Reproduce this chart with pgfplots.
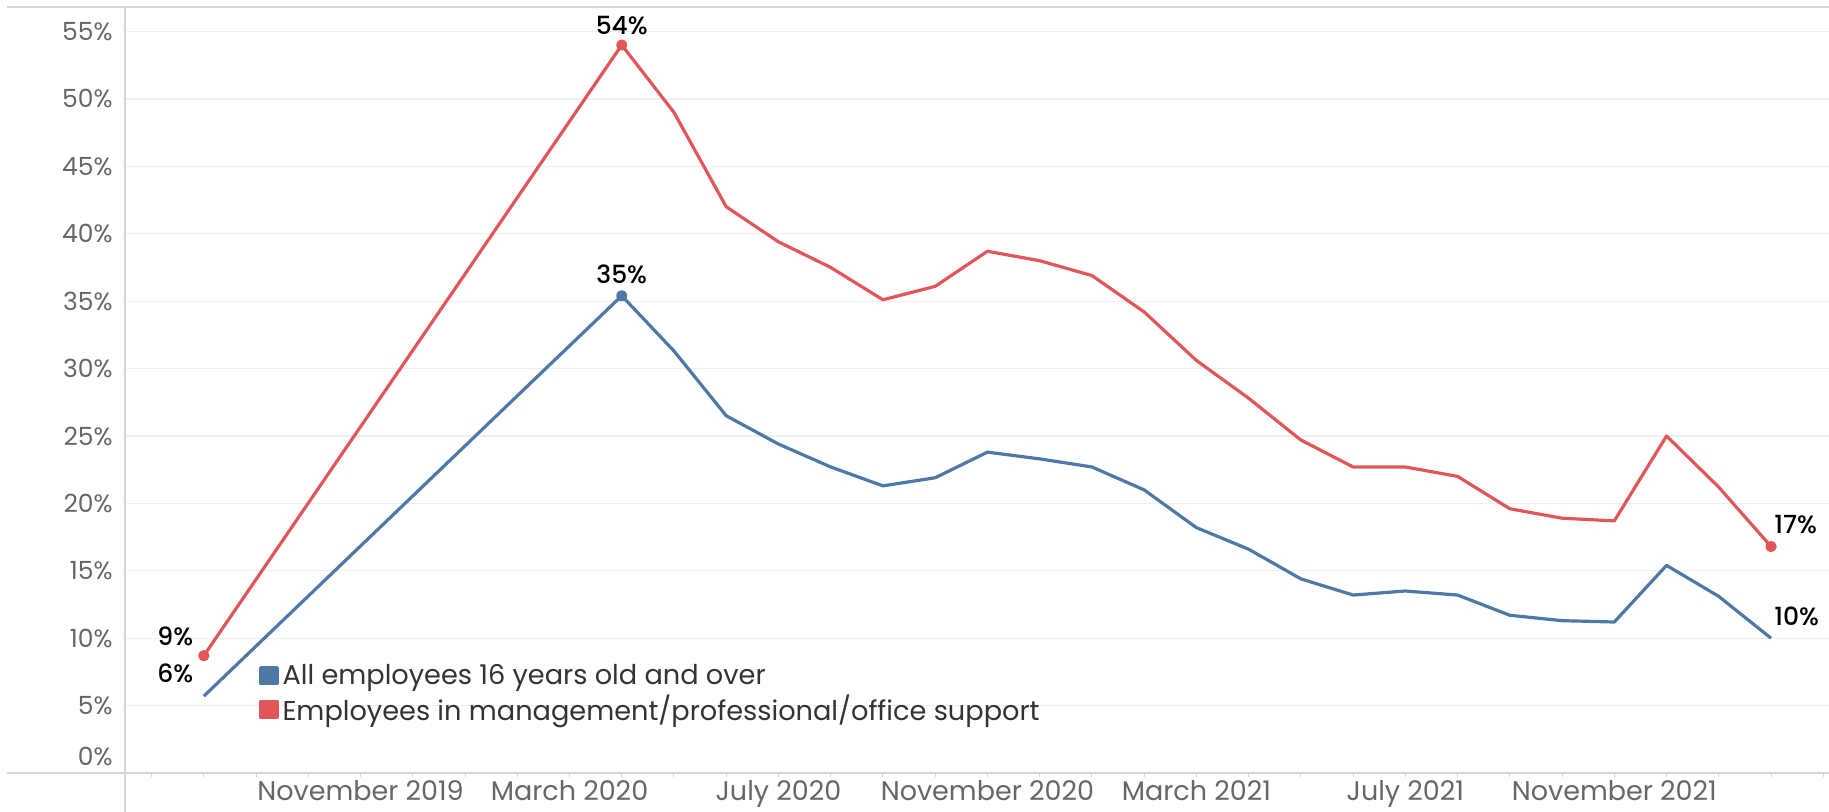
\documentclass[border=0pt]{standalone}
\usepackage{pgfplots}
\pgfplotsset{compat=1.18}
\usepackage{pgfplotstable}
\usepackage{fontspec}
\setmainfont{Poppins}
\newfontfamily\medfont{Poppins Medium}
\definecolor{tblue}{HTML}{4E79A7}
\definecolor{tred}{HTML}{E15759}
\definecolor{gridc}{HTML}{EFEFEF}
\definecolor{axisgray}{HTML}{D4D4D4}
\definecolor{ticklab}{HTML}{666666}
\definecolor{legtext}{HTML}{333333}

\pgfplotstableread{
idx blue red
2 5.7 8.7
10 35.4 54.0
11 31.3 49.0
12 26.5 42.0
13 24.4 39.4
14 22.7 37.5
15 21.3 35.1
16 21.9 36.1
17 23.8 38.7
18 23.3 38.0
19 22.7 36.9
20 21.0 34.2
21 18.2 30.6
22 16.6 27.8
23 14.4 24.7
24 13.2 22.7
25 13.5 22.7
26 13.2 22.0
27 11.7 19.6
28 11.3 18.9
29 11.2 18.7
30 15.4 25.0
31 13.1 21.2
32 10.0 16.8
}\datatable

\begin{document}
\begin{tikzpicture}
\begin{axis}[
  width=852pt, height=383pt, scale only axis,
  xmin=0.491, xmax=33.11, ymin=0, ymax=56.82,
  clip=false,
  axis line style={draw=none},
  ytick={5,10,...,55},
  yticklabels={5\%,10\%,15\%,20\%,25\%,30\%,35\%,40\%,45\%,50\%,55\%},
  extra y ticks={0}, extra y tick labels={0\%},
  extra y tick style={yticklabel style={yshift=8.5pt}, grid=none},
  ytick style={draw=none},
  ytick align=inside,
  yticklabel style={font=\fontsize{12.5}{14}\selectfont, text=ticklab, anchor=east, inner sep=0pt, xshift=-6pt},
  ymajorgrids, major grid style={gridc, line width=0.6pt},
  xtick={5,9,13,17,21,25,29},
  xticklabels={November 2019, March 2020, July 2020, November 2020, March 2021, July 2021, November 2021},
  minor xtick={1,...,33},
  xtick pos=bottom,
  xtick style={axisgray, line width=0.5pt},
  xtick align=outside,
  major tick length=2pt, minor tick length=2pt,
  xticklabel style={font=\fontsize{13.5}{15}\selectfont, text=ticklab, anchor=north, inner sep=0pt, yshift=-1.5pt},
  legend style={at={(rel axis cs:0.0786,0.148)}, anchor=north west, draw=none, fill=none,
    font=\fontsize{13.6}{15}\selectfont, text=legtext, row sep=0pt, inner sep=0pt,
    /tikz/every even column/.append style={column sep=2.5pt}},
  legend cell align=left,
  legend image code/.code={\fill (0pt,-4pt) rectangle (8pt,4pt);},
]
\addplot[tblue, line width=1.6pt, line join=round, mark=*, mark size=2pt, mark indices={2}, mark options={fill=tblue, draw=tblue}] table[x=idx, y=blue] {\datatable};
\addlegendentry{All employees 16 years old and over}
\addplot[tred, line width=1.6pt, line join=round, mark=*, mark size=2pt, mark indices={1,2,24}, mark options={fill=tred, draw=tred}] table[x=idx, y=red] {\datatable};
\addlegendentry{Employees in management/professional/office support}

\node[anchor=east, font=\medfont\fontsize{12.5}{14}\selectfont] at ([xshift=-1.8pt,yshift=9.7pt]axis cs:2,8.7) {9\%};
\node[anchor=east, font=\medfont\fontsize{12.5}{14}\selectfont] at ([xshift=-1.8pt,yshift=11.5pt]axis cs:2,5.7) {6\%};
\node[anchor=base, font=\medfont\fontsize{12.5}{14}\selectfont] at ([yshift=5.5pt]axis cs:10,54.0) {54\%};
\node[anchor=base, font=\medfont\fontsize{12.5}{14}\selectfont] at ([yshift=6pt]axis cs:10,35.4) {35\%};
\node[anchor=west, font=\medfont\fontsize{12.5}{14}\selectfont] at ([xshift=-1.9pt,yshift=10.8pt]axis cs:32,16.8) {17\%};
\node[anchor=west, font=\medfont\fontsize{12.5}{14}\selectfont] at ([xshift=-1.9pt,yshift=11pt]axis cs:32,10.0) {10\%};

\draw[axisgray, line width=1pt] ([xshift=-59pt]rel axis cs:0,0) -- (rel axis cs:1,0);
\draw[axisgray, line width=1pt] ([xshift=-59pt]rel axis cs:0,1) -- (rel axis cs:1,1);
\draw[axisgray, line width=1pt] (rel axis cs:0,1) -- ([yshift=-19.5pt]rel axis cs:0,0);
\end{axis}
\pgfresetboundingbox
\path ([shift={(-62.5pt,-19.5pt)}]current axis.south west) rectangle ([shift={(0pt,3.5pt)}]current axis.north east);
\end{tikzpicture}
\end{document}
